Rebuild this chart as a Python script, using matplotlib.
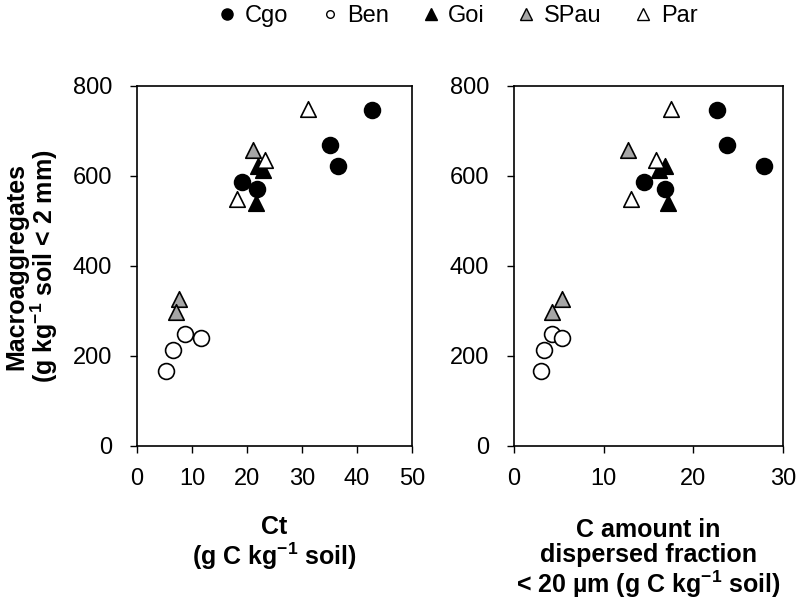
import matplotlib.pyplot as plt
from matplotlib.lines import Line2D

plt.rcParams['font.family'] = ['Liberation Sans', 'DejaVu Sans']
plt.rcParams['mathtext.fontset'] = 'custom'
plt.rcParams['mathtext.rm'] = 'Liberation Sans'
plt.rcParams['mathtext.bf'] = 'Liberation Sans:bold'

# data: (Ct, C in dispersed fraction <20 um, macroaggregates)
cgo_ct = [42.7, 35.1, 36.6, 19.0, 21.9]
cgo_cd = [22.6, 23.8, 27.9, 14.5, 16.8]
cgo_ma = [746, 668, 622, 587, 572]

ben_ct = [5.3, 6.6, 8.7, 11.6]
ben_cd = [3.0, 3.4, 4.2, 5.4]
ben_ma = [167, 213, 248, 240]

goi_ct = [21.6, 22.0, 22.9]
goi_cd = [17.2, 16.8, 16.2]
goi_ma = [540, 622, 613]

spau_ct = [7.6, 7.1, 21.0]
spau_cd = [5.3, 4.2, 12.7]
spau_ma = [327, 298, 658]

par_ct = [31.0, 23.3, 18.1]
par_cd = [17.5, 15.8, 13.0]
par_ma = [748, 635, 548]

groups = [
    ('Cgo', cgo_ct, cgo_cd, cgo_ma, 'o', 'black', 130, 8),
    ('Ben', ben_ct, ben_cd, ben_ma, 'o', 'white', 130, 5.5),
    ('Goi', goi_ct, goi_cd, goi_ma, '^', 'black', 125, 8),
    ('SPau', spau_ct, spau_cd, spau_ma, '^', '#a6a6a6', 125, 8),
    ('Par', par_ct, par_cd, par_ma, '^', 'white', 125, 8),
]

fig = plt.figure(figsize=(7.98, 5.99), dpi=100)
ax1 = fig.add_axes([137/798, 1 - 446/599, 275/798, 360/599])
ax2 = fig.add_axes([514/798, 1 - 446/599, 269/798, 360/599])

handles = []
for name, ct, cd, ma, m, fc, s, ms in groups:
    ax1.scatter(ct, ma, marker=m, s=s, facecolor=fc, edgecolor='black',
                linewidth=1.2, zorder=3)
    ax2.scatter(cd, ma, marker=m, s=s, facecolor=fc, edgecolor='black',
                linewidth=1.2, zorder=3)
    handles.append(Line2D([], [], ls='none', marker=m, markersize=ms,
                          markerfacecolor=fc, markeredgecolor='black',
                          markeredgewidth=1.0, label=name))

ax1.set_xlim(0, 50)
ax1.set_xticks([0, 10, 20, 30, 40, 50])
ax2.set_xlim(0, 30)
ax2.set_xticks([0, 10, 20, 30])
for ax in (ax1, ax2):
    ax.set_ylim(0, 800)
    ax.set_yticks([0, 200, 400, 600, 800])
    ax.tick_params(direction='out', length=5, width=1, labelsize=17)
    ax.tick_params(axis='y', pad=13)
    ax.tick_params(axis='x', pad=11)
    for sp in ax.spines.values():
        sp.set_linewidth(1.2)

ax1.set_ylabel('Macroaggregates\n(g kg$^{\\mathbf{-1}}$ soil < 2 mm)',
               fontsize=18, fontweight='bold', labelpad=9, linespacing=1.0)
ax1.set_xlabel('Ct\n(g C kg$^{\\mathbf{-1}}$ soil)', fontsize=18,
               fontweight='bold', labelpad=18, linespacing=1.05)
ax2.set_xlabel('C amount in\ndispersed fraction\n< 20 µm (g C kg$^{\\mathbf{-1}}$ soil)',
               fontsize=18, fontweight='bold', labelpad=20, linespacing=1.05)

fig.legend(handles=handles, loc='center', bbox_to_anchor=(0.575, 1 - 16/599),
           ncol=5, frameon=False, fontsize=17, handlelength=0.6,
           handletextpad=0.45, columnspacing=1.45, borderaxespad=0)

fig.savefig('out.png', dpi=100)
